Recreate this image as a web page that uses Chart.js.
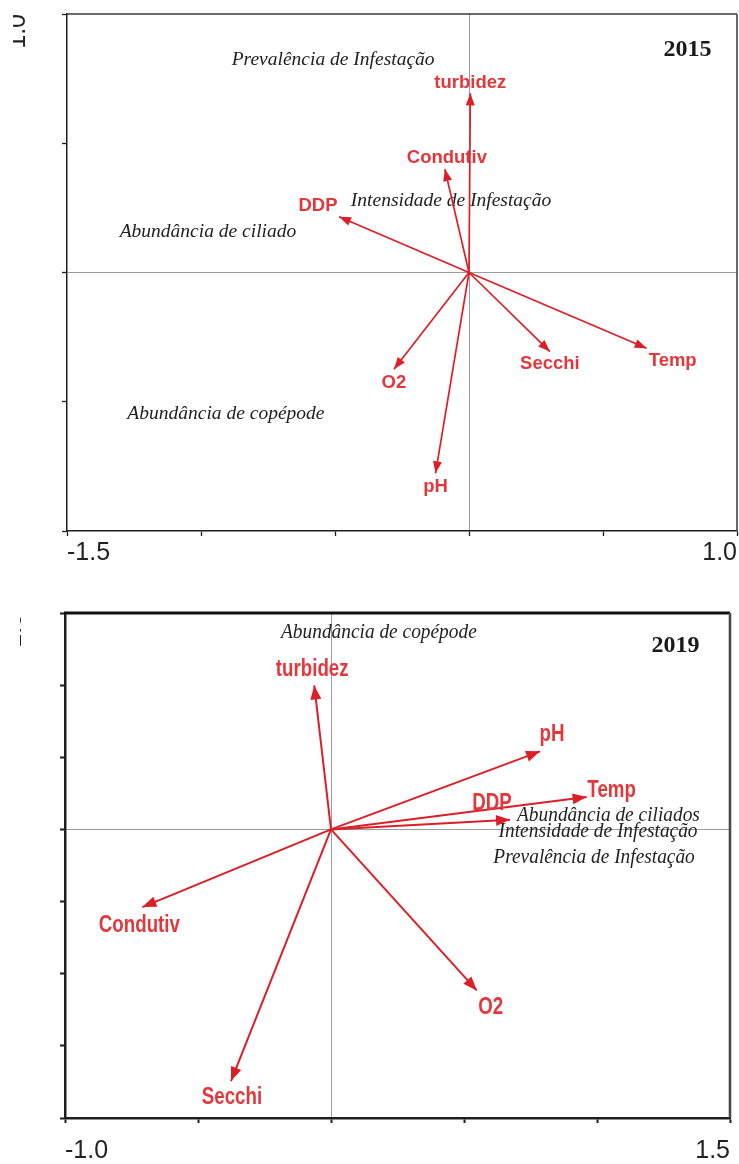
<!DOCTYPE html>
<html>
<head>
<meta charset="utf-8">
<script src="https://cdn.jsdelivr.net/npm/chart.js@4/dist/chart.umd.min.js"></script>
<style>
  html, body { margin: 0; padding: 0; background: #fff; }
  body { width: 739px; height: 1164px; position: relative; overflow: hidden; }
  canvas { position: absolute; }
  #c2015 { left: 13px; top: 0; }
  #c2019 { left: 20px; top: 590px; }
</style>
</head>
<body>
<canvas id="c2015" width="726" height="580"></canvas>
<canvas id="c2019" width="719" height="574"></canvas>
<script>
// ---- 2015: environmental vectors (biplot arrows) ----
const vars2015 = ['turbidez', 'Condutiv', 'DDP', 'O2', 'pH', 'Secchi', 'Temp'];
const vecX2015 = [0.005, -0.090, -0.485, -0.280, -0.125, 0.302, 0.663];
const vecY2015 = [0.693, 0.400, 0.216, -0.374, -0.777, -0.306, -0.293];
// ---- 2015: response scores ----
const resp2015 = ['Prevalência de Infestação', 'Intensidade de Infestação', 'Abundância de ciliado', 'Abundância de copépode'];
const respX2015 = [-0.507, -0.067, -0.974, -0.907];
const respY2015 = [0.822, 0.277, 0.157, -0.547];
// ---- 2015: axis ranges ----
const xRange2015 = [-1.5, 1.0];
const yRange2015 = [-1.0, 1.0];

// ---- 2019: environmental vectors ----
const vars2019 = ['turbidez', 'Condutiv', 'Secchi', 'O2', 'pH', 'Temp', 'DDP'];
const vecX2019 = [-0.063, -0.709, -0.376, 0.548, 0.786, 0.961, 0.673];
const vecY2019 = [0.998, -0.538, -1.744, -1.116, 0.541, 0.224, 0.067];
// ---- 2019: response scores ----
const resp2019 = ['Abundância de ciliados', 'Intensidade de Infestação', 'Prevalência de Infestação', 'Abundância de copépode'];
const respX2019 = [1.043, 1.004, 0.989, 0.180];
const respY2019 = [0.097, -0.014, -0.194, 1.365];
const xRange2019 = [-1.0, 1.5];
const yRange2019 = [-2.0, 1.5];
const tickStep = 0.5;

// label nudges (pixels) for the red vector names
const nudgeX2015 = [0, 2, -21, 0, 0, 0, 26];
const nudgeY2015 = [-10, -11, -11, 14, 14, 12, 13];
const nudgeX2019 = [-2, -3, 1, 14, 12, 25, -18];
const nudgeY2019 = [-16, 18, 16, 17, -17, -7, -16];

const ARROW_RED = '#dc1f27';
const LABEL_RED = '#e4373c';
const SANS = "'Liberation Sans', Arial, sans-serif";
const SERIF = "'Liberation Serif', 'Times New Roman', serif";

function drawScaledText(ctx, text, x, y, sx) {
  ctx.save();
  ctx.translate(x, y);
  ctx.scale(sx, 1);
  ctx.fillText(text, 0, 0);
  ctx.restore();
}

function noPadding(s) {
  s.paddingTop = 0; s.paddingBottom = 0; s.paddingLeft = 0; s.paddingRight = 0;
}

function biplot(id, cfg) {
  const nVec = cfg.vars.length;
  const datasets = cfg.vars.map((name, i) => ({
    label: name,
    data: [{ x: 0, y: 0 }, { x: cfg.vx[i], y: cfg.vy[i] }],
    showLine: true,
    borderColor: ARROW_RED,
    borderWidth: cfg.lineW,
    pointRadius: 0,
    clip: false
  }));
  datasets.push({
    label: 'respostas',
    data: cfg.resp.map((r, i) => ({ x: cfg.rx[i], y: cfg.ry[i] })),
    showLine: false,
    pointRadius: 0
  });

  const overlay = {
    id: 'biplotOverlay',
    beforeDatasetsDraw(chart) {
      const ctx = chart.ctx;
      const meta = chart.getDatasetMeta(nVec);
      ctx.save();
      ctx.fillStyle = '#222';
      ctx.font = 'italic ' + cfg.italicSize + 'px ' + SERIF;
      ctx.textAlign = 'center';
      ctx.textBaseline = 'middle';
      meta.data.forEach((pt, i) => drawScaledText(ctx, cfg.resp[i], pt.x, pt.y, cfg.italicSX));
      ctx.restore();
    },
    afterDatasetsDraw(chart) {
      const ctx = chart.ctx;
      ctx.save();
      for (let i = 0; i < nVec; i++) {
        const meta = chart.getDatasetMeta(i);
        const p0 = meta.data[0], p1 = meta.data[1];
        const a = Math.atan2(p1.y - p0.y, p1.x - p0.x);
        const L = cfg.headLen, W = cfg.headHalf;
        ctx.fillStyle = ARROW_RED;
        ctx.beginPath();
        ctx.moveTo(p1.x, p1.y);
        ctx.lineTo(p1.x - L * Math.cos(a) + W * Math.sin(a), p1.y - L * Math.sin(a) - W * Math.cos(a));
        ctx.lineTo(p1.x - L * Math.cos(a) - W * Math.sin(a), p1.y - L * Math.sin(a) + W * Math.cos(a));
        ctx.closePath();
        ctx.fill();
        ctx.fillStyle = LABEL_RED;
        ctx.font = 'bold ' + cfg.redSize + 'px ' + SANS;
        ctx.textAlign = 'center';
        ctx.textBaseline = 'middle';
        drawScaledText(ctx, cfg.vars[i], p1.x + cfg.nx[i], p1.y + cfg.ny[i], cfg.redSX);
      }
      ctx.restore();
    },
    afterDraw(chart) {
      const ctx = chart.ctx, a = chart.chartArea;
      ctx.save();
      // frame: top and right edges
      ctx.strokeStyle = cfg.topColor;
      ctx.lineWidth = cfg.topW;
      ctx.beginPath();
      ctx.moveTo(a.left - 1, a.top);
      ctx.lineTo(a.right, a.top);
      ctx.stroke();
      ctx.strokeStyle = cfg.rightColor;
      ctx.lineWidth = cfg.rightW;
      ctx.beginPath();
      ctx.moveTo(a.right, a.top);
      ctx.lineTo(a.right, a.bottom);
      ctx.stroke();
      // panel year
      ctx.fillStyle = '#1a1a1a';
      ctx.font = 'bold 24px ' + SERIF;
      ctx.textAlign = 'center';
      ctx.textBaseline = 'middle';
      ctx.fillText(cfg.year, a.right + cfg.yearDX, a.top + cfg.yearDY);
      ctx.restore();
    }
  };

  const zeroGrid = c => (c.tick && c.tick.value === 0) ? '#9c9c9c' : 'rgba(0,0,0,0)';

  return new Chart(document.getElementById(id), {
    type: 'scatter',
    data: { datasets },
    plugins: [overlay],
    options: {
      responsive: false,
      animation: false,
      devicePixelRatio: 1,
      layout: { padding: { top: cfg.padTop, right: cfg.padRight, left: 0, bottom: 0 } },
      plugins: { legend: { display: false }, tooltip: { enabled: false } },
      scales: {
        x: {
          type: 'linear',
          min: cfg.xr[0], max: cfg.xr[1],
          afterFit(s) { s.height = cfg.xAxisH; noPadding(s); },
          border: { color: '#1e1e1e', width: cfg.axisW },
          grid: { color: zeroGrid, lineWidth: 1, tickColor: '#1e1e1e', tickLength: 5, tickWidth: cfg.tickW },
          ticks: {
            stepSize: tickStep, autoSkip: false, align: 'inner', maxRotation: 0,
            padding: cfg.xPad, color: '#222',
            font: { family: SANS, size: 25, lineHeight: 1 },
            callback: (v, i, t) => (i === 0 || i === t.length - 1) ? Number(v).toFixed(1) : ''
          }
        },
        y: {
          type: 'linear',
          min: cfg.yr[0], max: cfg.yr[1],
          afterFit(s) { s.width = cfg.yAxisW; noPadding(s); },
          border: { color: '#1e1e1e', width: cfg.axisW },
          grid: { color: zeroGrid, lineWidth: 1, tickColor: '#1e1e1e', tickLength: 5, tickWidth: cfg.tickW },
          ticks: {
            stepSize: tickStep, autoSkip: false, minRotation: 90, maxRotation: 90,
            padding: cfg.yPad, color: '#222',
            font: { family: SANS, size: 25, lineHeight: 1 },
            callback: (v, i, t) => (i === t.length - 1) ? Number(v).toFixed(1) : ''
          }
        }
      }
    }
  });
}

biplot('c2015', {
  vars: vars2015, vx: vecX2015, vy: vecY2015, nx: nudgeX2015, ny: nudgeY2015,
  resp: resp2015, rx: respX2015, ry: respY2015,
  xr: xRange2015, yr: yRange2015, year: '2015',
  padTop: 14, padRight: 2, xAxisH: 49, yAxisW: 54, xPad: 4.5, yPad: 44,
  axisW: 1.5, tickW: 1.3, topW: 1.6, rightW: 1.6, topColor: '#3a3a3a', rightColor: '#444',
  lineW: 1.7, headLen: 12, headHalf: 4.5,
  redSize: 18.5, redSX: 1, italicSize: 19.5, italicSX: 1,
  yearDX: -49.5, yearDY: 36
});

biplot('c2019', {
  vars: vars2019, vx: vecX2019, vy: vecY2019, nx: nudgeX2019, ny: nudgeY2019,
  resp: resp2019, rx: respX2019, ry: respY2019,
  xr: xRange2019, yr: yRange2019, year: '2019',
  padTop: 23, padRight: 9, xAxisH: 46, yAxisW: 45, xPad: 15.5, yPad: 46,
  axisW: 2.5, tickW: 2, topW: 3, rightW: 2.6, topColor: '#111', rightColor: '#4a4a4a',
  lineW: 2, headLen: 14, headHalf: 5.5,
  redSize: 24, redSX: 0.78, italicSize: 22, italicSX: 0.88,
  yearDX: -54.5, yearDY: 33
});
</script>
</body>
</html>
